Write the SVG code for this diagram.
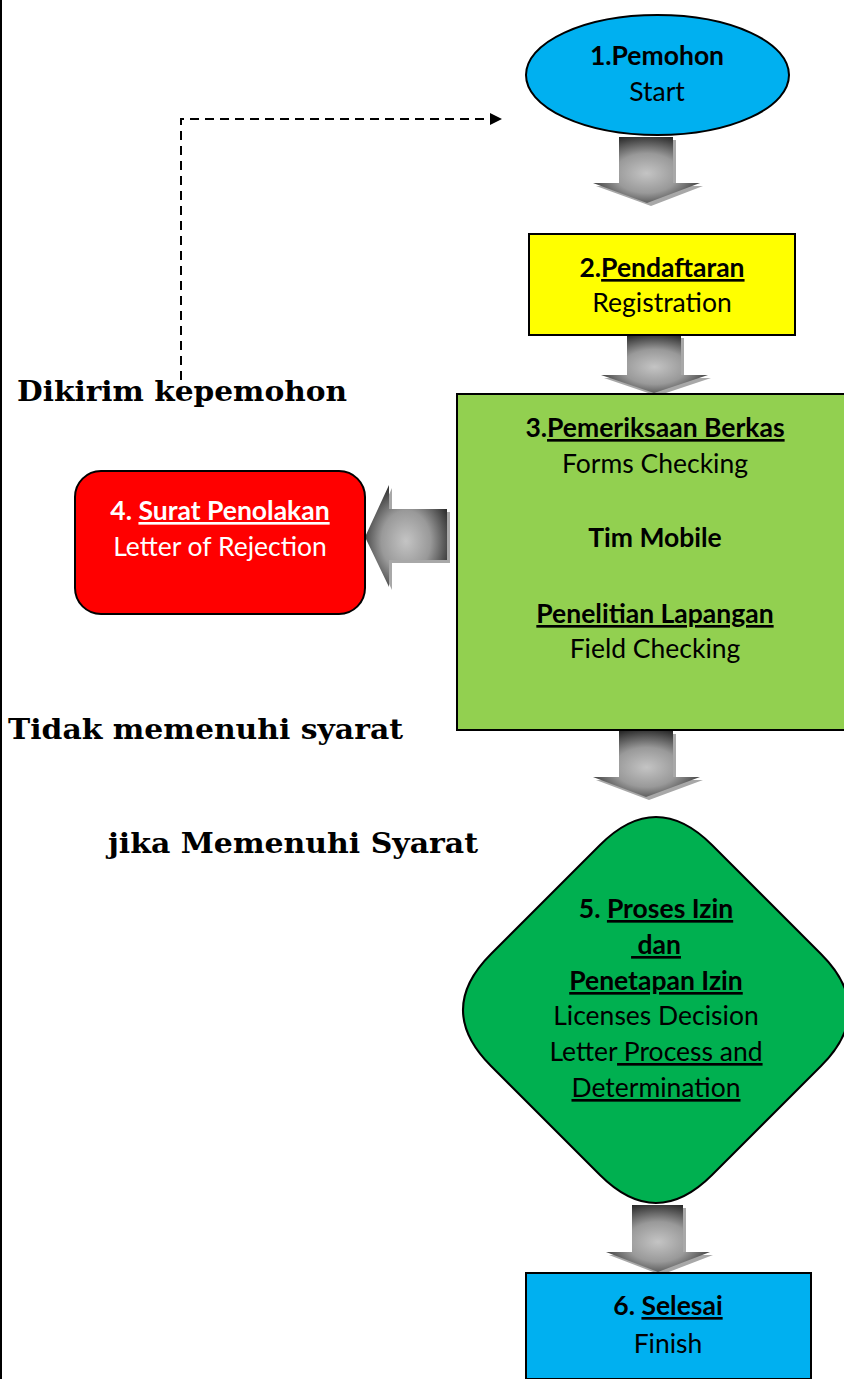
<svg xmlns="http://www.w3.org/2000/svg" width="844" height="1379" viewBox="0 0 844 1379">
<defs>
<radialGradient id="ag" cx="50%" cy="55%" r="60%">
<stop offset="0" stop-color="#c4c4c4"/>
<stop offset="0.5" stop-color="#999"/>
<stop offset="1" stop-color="#262626"/>
</radialGradient>
<marker id="ah" markerWidth="12" markerHeight="12" refX="10" refY="6" orient="auto" markerUnits="userSpaceOnUse">
<path d="M0,0 L12,6 L0,12 Z" fill="#000"/>
</marker>
</defs>
<style>
.t{font-family:Lato,"Open Sans","Liberation Sans",sans-serif;font-size:26.5px;text-anchor:middle;fill:#000}
.b{font-weight:bold}
.w{fill:#fff}
.u{text-decoration:underline}
.lab{font-family:"DejaVu Serif","Liberation Serif",serif;font-weight:bold;font-size:28px;fill:#000}
.box{stroke:#000;stroke-width:2}
.arr{fill:url(#ag)}
.sh{fill:#a8a8a8}
</style>
<rect x="0" y="0" width="844" height="1379" fill="#fff"/>
<rect x="0" y="0" width="2" height="1379" fill="#000"/>

<g id="connectors">
<path d="M181,380 V119 H500" fill="none" stroke="#000" stroke-width="2" stroke-dasharray="9,6" marker-end="url(#ah)"/>
<g id="arrow1">
<path class="sh" d="M622,140 H676 V186 H703 L651,206 L596,186 H622 Z"/>
<path class="arr" d="M619,137 H673 V183 H700 L647,203 L593,183 H619 Z"/>
</g>
<g id="arrow2">
<path class="sh" d="M630,338 H684 V378 H711 L657,396 L604,378 H630 Z"/>
<path class="arr" d="M627,335 H681 V375 H708 L654,393 L601,375 H627 Z"/>
</g>
<g id="arrow3">
<path class="sh" d="M450,512 H392 V488 L368,540 L392,590 V563 H450 Z"/>
<path class="arr" d="M447,509 H389 V485 L365,537 L389,587 V560 H447 Z"/>
</g>
<g id="arrow4">
<path class="sh" d="M622,734 H676 V780 H703 L649,800 L596,780 H622 Z"/>
<path class="arr" d="M619,731 H673 V777 H700 L646,797 L593,777 H619 Z"/>
</g>
<g id="arrow5">
<path class="sh" d="M635,1208 H686 V1255 H713 L661,1275 L609,1255 H635 Z"/>
<path class="arr" d="M632,1205 H683 V1252 H710 L658,1272 L606,1252 H632 Z"/>
</g>
</g>

<g id="node1">
<ellipse class="box" cx="657.5" cy="75" rx="131.5" ry="60" fill="#00B0F0"/>
<text class="t" x="657" y="65"><tspan class="b">1.Pemohon</tspan></text>
<text class="t" x="657" y="101">Start</text>
</g>

<g id="node2">
<rect class="box" x="529" y="234" width="266" height="101" fill="#FFFF00"/>
<text class="t" x="662" y="277"><tspan class="b">2.</tspan><tspan class="b u">Pendaftaran</tspan></text>
<text class="t" x="662" y="312">Registration</text>
</g>

<g id="node3">
<rect class="box" x="457" y="394" width="395" height="336" fill="#92D050"/>
<text class="t" x="655" y="437"><tspan class="b">3.</tspan><tspan class="b u">Pemeriksaan Berkas</tspan></text>
<text class="t" x="655" y="473">Forms Checking</text>
<text class="t b" x="655" y="547">Tim Mobile</text>
<text class="t b u" x="655" y="623">Penelitian Lapangan</text>
<text class="t" x="655" y="658">Field Checking</text>
</g>

<g id="node4">
<rect class="box" x="75" y="471" width="290" height="143" rx="26" fill="#FF0000"/>
<text class="t w" x="220" y="520"><tspan class="b">4. </tspan><tspan class="b u">Surat Penolakan</tspan></text>
<text class="t w" x="220" y="556">Letter of Rejection</text>
</g>

<g id="node5">
<path class="box" d="M600,845 Q656,789 712,845 L821,954 Q877,1010 821,1066 L712,1175 Q656,1231 600,1175 L491,1066 Q435,1010 491,954 Z" fill="#00B050"/>
<text class="t" x="656" y="918"><tspan class="b">5. </tspan><tspan class="b u">Proses Izin</tspan></text>
<text class="t b u" x="656" y="954" xml:space="preserve"> dan</text>
<text class="t b u" x="656" y="990">Penetapan Izin</text>
<text class="t" x="656" y="1025">Licenses Decision</text>
<text class="t" x="656" y="1061" xml:space="preserve">Letter<tspan class="u"> Process and</tspan></text>
<text class="t u" x="656" y="1097">Determination</text>
</g>

<g id="node6">
<rect class="box" x="526" y="1273" width="285" height="106" fill="#00B0F0"/>
<text class="t" x="668" y="1315"><tspan class="b">6. </tspan><tspan class="b u">Selesai</tspan></text>
<text class="t" x="668" y="1353">Finish</text>
</g>

<g id="labels">
<text class="lab" x="17" y="401" textLength="330" lengthAdjust="spacingAndGlyphs">Dikirim kepemohon</text>
<text class="lab" x="8" y="739" textLength="395" lengthAdjust="spacingAndGlyphs">Tidak memenuhi syarat</text>
<text class="lab" x="108" y="853" textLength="370" lengthAdjust="spacingAndGlyphs">jika Memenuhi Syarat</text>
</g>
</svg>
